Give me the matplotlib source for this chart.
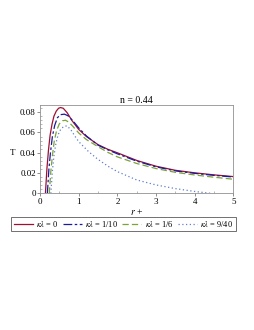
import matplotlib
matplotlib.use("Agg")
import matplotlib.pyplot as plt
import numpy as np
from matplotlib.ticker import MultipleLocator

plt.rcParams["font.family"] = ["Liberation Serif", "DejaVu Serif"]
plt.rcParams["mathtext.fontset"] = "stix"

# ── data (n = 0.44) ─────────────────────────────────────────────────────────
r_k0 = [0.14, 0.18, 0.22, 0.26, 0.31, 0.36, 0.42, 0.48, 0.53, 0.6, 0.7, 0.83,
        1.0, 1.2, 1.5, 1.75, 2.0, 2.5, 3.0, 3.5, 4.0, 4.5, 5.0]
T_k0 = [0.0, 0.025, 0.043, 0.057, 0.068, 0.076, 0.081, 0.0838, 0.0845, 0.0838,
        0.0795, 0.0715, 0.063, 0.056, 0.048, 0.0435, 0.040, 0.0325, 0.0268,
        0.0228, 0.0203, 0.0183, 0.0166]

r_k1 = [0.19, 0.23, 0.27, 0.32, 0.38, 0.45, 0.53, 0.63, 0.72, 0.85, 1.0, 1.2,
        1.5, 1.75, 2.0, 2.5, 3.0, 3.5, 4.0, 4.5, 5.0]
T_k1 = [0.0, 0.024, 0.040, 0.056, 0.067, 0.0745, 0.0775, 0.078, 0.0765, 0.0715,
        0.0645, 0.0565, 0.0475, 0.043, 0.039, 0.0318, 0.0262, 0.0222, 0.0198,
        0.0178, 0.0162]

r_k2 = [0.24, 0.28, 0.32, 0.37, 0.43, 0.5, 0.58, 0.66, 0.75, 0.85, 1.0, 1.2,
        1.5, 1.75, 2.0, 2.5, 3.0, 3.5, 4.0, 4.5, 5.0]
T_k2 = [0.0, 0.022, 0.037, 0.052, 0.062, 0.0685, 0.0715, 0.072, 0.070, 0.066,
        0.0595, 0.053, 0.046, 0.0405, 0.036, 0.0295, 0.0245, 0.0208, 0.0182,
        0.016, 0.014]

r_k3 = [0.28, 0.32, 0.36, 0.41, 0.47, 0.54, 0.62, 0.7, 0.8, 0.9, 1.0, 1.26,
        1.5, 1.77, 2.0, 2.5, 3.0, 3.5, 4.0, 4.45]
T_k3 = [0.0, 0.022, 0.037, 0.049, 0.058, 0.0635, 0.066, 0.0665, 0.0625, 0.0565,
        0.051, 0.041, 0.0335, 0.0265, 0.0215, 0.0133, 0.0084, 0.0048, 0.002, 0.0]

labels = [r"$\kappa\lambda$ = 0", r"$\kappa\lambda$ = 1/10",
          r"$\kappa\lambda$ = 1/6", r"$\kappa\lambda$ = 9/40"]
title = "n = 0.44"

colors = ["#9e1030", "#1a1a9c", "#7ba33a", "#6080c8"]
styles = ["-", (0, (7, 2, 2, 2)), (0, (5, 2.5)), (0, (1, 2))]

fig = plt.figure(figsize=(2.55, 3.30), dpi=100)
ax = fig.add_axes([40 / 255, 1 - 193.5 / 330, 193.5 / 255, 88.5 / 330])

curves = [(r_k0, T_k0), (r_k1, T_k1), (r_k2, T_k2), (r_k3, T_k3)]
handles = []
for (r, T), c, ls, lab in zip(curves, colors, styles, labels):
    h, = ax.plot(r, T, color=c, linestyle=ls, linewidth=0.9, label=lab)
    handles.append(h)

ax.set_xlim(0, 5)
ax.set_ylim(0, 0.087)
ax.xaxis.set_major_locator(MultipleLocator(1))
ax.xaxis.set_minor_locator(MultipleLocator(0.5))
ax.yaxis.set_major_locator(MultipleLocator(0.02))
ax.yaxis.set_minor_locator(MultipleLocator(0.004))
ax.yaxis.set_major_formatter(plt.FuncFormatter(lambda v, p: "0" if v == 0 else f"{v:.2f}"))
ax.tick_params(which="major", direction="out", length=2.0, width=0.5,
               labelsize=6.5, pad=1, color="#606060")
ax.tick_params(which="minor", direction="in", length=1.5, width=0.4,
               color="#808080")
for s in ax.spines.values():
    s.set_color("#909090")
    s.set_linewidth(0.6)

ax.set_title(title, fontsize=7, pad=1.5)
fig.text(13 / 255, 1 - 153 / 330, "T", fontsize=6.5, ha="center", va="center")
fig.text(137 / 255, 1 - 212 / 330, "$r$ +", fontsize=7, ha="center", va="center")

leg = fig.legend(handles=handles, loc="center", ncol=4,
                 bbox_to_anchor=(123.5 / 255, 1 - 224 / 330),
                 fontsize=6, frameon=True, fancybox=False,
                 handlelength=2.3, handletextpad=0.4, columnspacing=0.5,
                 borderpad=0.25, borderaxespad=0)
leg.get_frame().set_edgecolor("#303030")
leg.get_frame().set_linewidth(0.6)

fig.savefig("out.png", dpi=100)
